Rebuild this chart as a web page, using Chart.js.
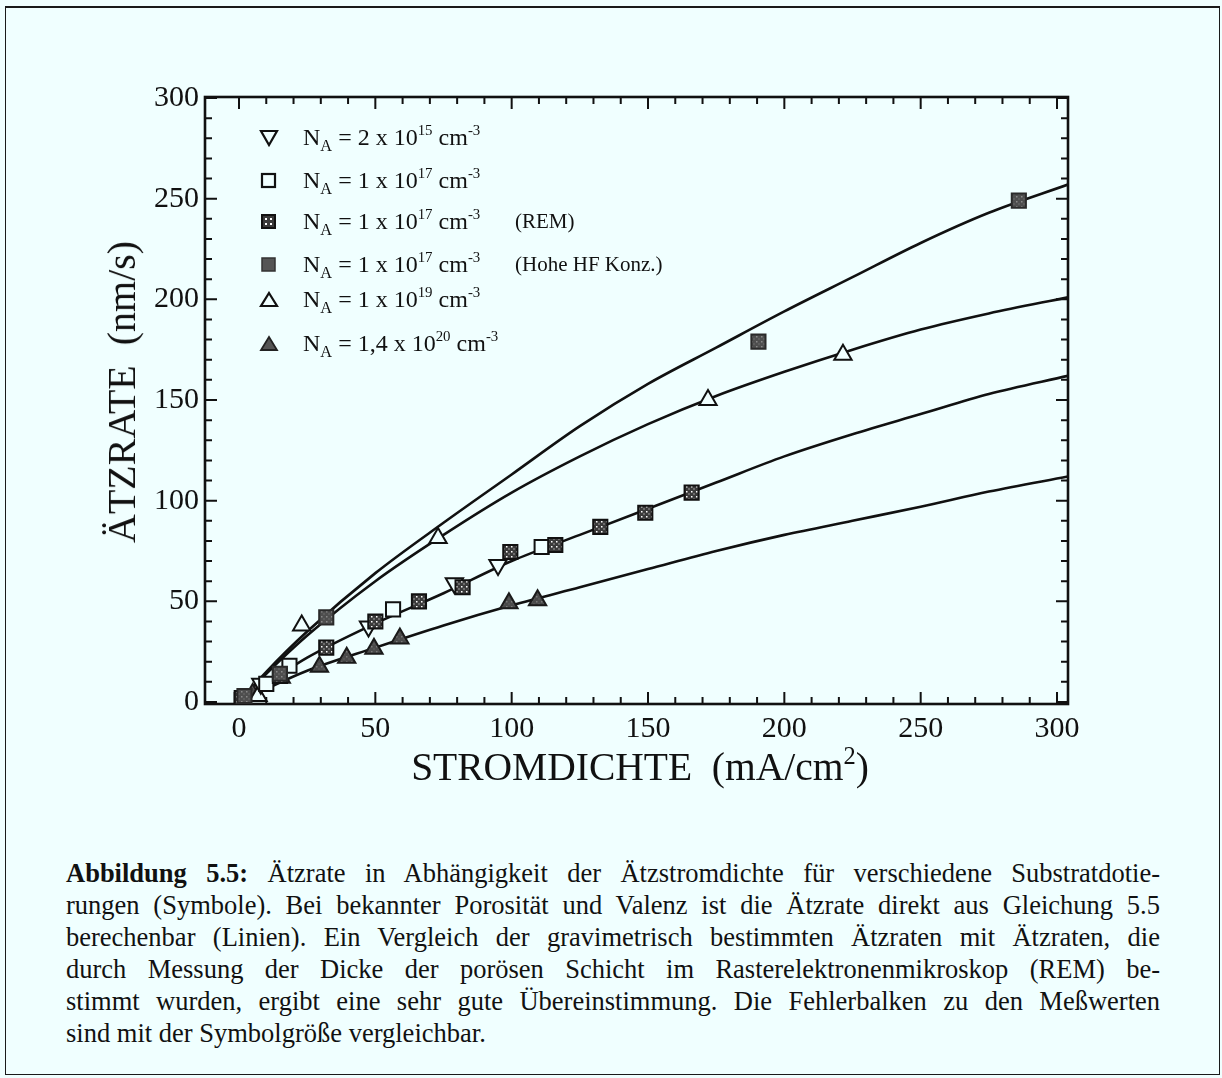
<!DOCTYPE html>
<html><head><meta charset="utf-8">
<script src="https://cdn.jsdelivr.net/npm/chart.js@4.4.1/dist/chart.umd.min.js"></script>
<style>
html,body{margin:0;padding:0;background:#f0ffff;}
body{width:1222px;height:1078px;position:relative;overflow:hidden;font-family:'Liberation Serif','Times New Roman',serif;color:#111;}
#frame{position:absolute;left:5px;top:6px;width:1213px;height:1066px;border:1.5px solid #1a1a1a;border-top-width:2px;}
#c{position:absolute;left:0;top:0;}
.leg{position:absolute;left:255px;height:30px;font-size:24px;line-height:30px;white-space:nowrap;}
.leg svg{position:absolute;left:4px;top:7px;}
.leg .t{position:absolute;left:48px;top:0;}
.leg .e{position:absolute;left:260px;top:0;font-size:21px;}
sub{font-size:0.68em;vertical-align:-0.35em;line-height:0;}
sup{font-size:0.62em;vertical-align:0.65em;line-height:0;}
#xt{position:absolute;left:0;width:1280px;top:745px;text-align:center;font-size:39.5px;line-height:44px;white-space:nowrap;}
#yt{position:absolute;left:122px;top:392px;transform:translate(-50%,-50%) rotate(-90deg);font-size:40px;line-height:44px;white-space:nowrap;}
#cap{position:absolute;left:66px;top:857px;width:1094px;font-size:26.5px;line-height:32px;}
#cap .l{text-align:justify;text-align-last:justify;}
#cap .z{text-align:left;}
</style></head>
<body>
<div id="frame"></div>
<canvas id="c" width="1222" height="840"></canvas>

<div class="leg" style="top:122px"><svg width="20" height="18"><polygon points="2,2 18,2 10,16" fill="#f0ffff" stroke="#111" stroke-width="2.2"/></svg><span class="t">N<sub>A</sub> = 2 x 10<sup>15</sup> cm<sup>-3</sup></span></div>
<div class="leg" style="top:165px"><svg width="20" height="18"><rect x="3" y="2" width="13" height="13" fill="#f0ffff" stroke="#111" stroke-width="2.2"/></svg><span class="t">N<sub>A</sub> = 1 x 10<sup>17</sup> cm<sup>-3</sup></span></div>
<div class="leg" style="top:206px"><svg width="20" height="18"><rect x="3" y="2" width="13" height="13" fill="#3a3a3a" stroke="#111" stroke-width="2"/><rect x="6" y="5" width="2" height="2" fill="#fff"/><rect x="11" y="5" width="2" height="2" fill="#fff"/><rect x="6" y="10" width="2" height="2" fill="#fff"/><rect x="11" y="10" width="2" height="2" fill="#fff"/></svg><span class="t">N<sub>A</sub> = 1 x 10<sup>17</sup> cm<sup>-3</sup></span><span class="e">(REM)</span></div>
<div class="leg" style="top:249px"><svg width="20" height="18"><rect x="3" y="2" width="13" height="13" fill="#555" stroke="#333" stroke-width="1.5"/></svg><span class="t">N<sub>A</sub> = 1 x 10<sup>17</sup> cm<sup>-3</sup></span><span class="e">(Hohe HF Konz.)</span></div>
<div class="leg" style="top:284px"><svg width="20" height="18"><polygon points="10,2 18,15 2,15" fill="#f0ffff" stroke="#111" stroke-width="2.2"/></svg><span class="t">N<sub>A</sub> = 1 x 10<sup>19</sup> cm<sup>-3</sup></span></div>
<div class="leg" style="top:328px"><svg width="20" height="18"><polygon points="10,2 18,15 2,15" fill="#555" stroke="#222" stroke-width="1.8"/></svg><span class="t">N<sub>A</sub> = 1,4 x 10<sup>20</sup> cm<sup>-3</sup></span></div>

<div id="xt">STROMDICHTE&nbsp; (mA/cm<sup>2</sup>)</div>
<div id="yt">ÄTZRATE&nbsp; (nm/s)</div>

<div id="cap">
<div class="l"><b>Abbildung 5.5:</b> Ätzrate in Abhängigkeit der Ätzstromdichte für verschiedene Substratdotie-</div>
<div class="l">rungen (Symbole). Bei bekannter Porosität und Valenz ist die Ätzrate direkt aus Gleichung 5.5</div>
<div class="l">berechenbar (Linien). Ein Vergleich der gravimetrisch bestimmten Ätzraten mit Ätzraten, die</div>
<div class="l">durch Messung der Dicke der porösen Schicht im Rasterelektronenmikroskop (REM) be-</div>
<div class="l">stimmt wurden, ergibt eine sehr gute Übereinstimmung. Die Fehlerbalken zu den Meßwerten</div>
<div class="z">sind mit der Symbolgröße vergleichbar.</div>
</div>

<script>
// ---- tick values ----
const xMajorTicks = [0, 50, 100, 150, 200, 250, 300];
const xMinorTicks = [10,20,30,40,60,70,80,90,110,120,130,140,160,170,180,190,210,220,230,240,260,270,280,290];
const yMajorTicks = [0, 50, 100, 150, 200, 250, 300];
const yMinorTicks = [10,20,30,40,60,70,80,90,110,120,130,140,160,170,180,190,210,220,230,240,260,270,280,290];

// ---- model curves (Gleichung 5.5) ----
const curveX     = [0, 10, 25, 50, 75, 100, 125, 150, 175, 200, 225, 250, 275, 304];
const curveHF    = [0, 15, 35, 64, 89, 113, 137, 158, 176, 194, 211, 228, 243, 257];
const curve1e19  = [0, 14, 33, 60, 83, 104, 122, 138, 152, 164, 175, 185, 193, 201];
const curve1e17  = [0, 9, 22, 39, 54, 70, 83, 96, 109, 122, 133, 143, 153, 162];
const curve14e20 = [0, 6.5, 15.5, 27, 38, 48, 57, 66, 75, 83, 90, 97, 104.5, 112];

// ---- measured points ----
const dnTriX = [8, 47.5, 79, 95];
const dnTriY = [9, 37.5, 59, 68];
const openSqX = [1, 10, 18.5, 56.5, 111];
const openSqY = [1, 9, 18, 46, 77];
const remSqX = [1, 15, 32, 50, 66, 82, 99.5, 116, 132.5, 149, 166];
const remSqY = [2, 13, 27, 40, 50, 57, 74.5, 78, 87, 94, 104];
const hfSqX = [2, 15, 32, 190.5, 286];
const hfSqY = [3, 14, 42, 179, 249];
const openTriX = [7, 23, 73, 172, 221.5];
const openTriY = [3, 38, 81.5, 150, 172.5];
const fillTriX = [5, 15.5, 29.5, 39.5, 49.5, 59, 99, 109.5];
const fillTriY = [4, 12, 17.5, 22, 26.5, 31.5, 49, 50.5];

const zip = (xs, ys) => xs.map((x, i) => ({x, y: ys[i]}));

const canvas = document.getElementById('c');
const ctx0 = canvas.getContext('2d');
function pattern(base, dot) {
  const c = document.createElement('canvas'); c.width = 5; c.height = 5;
  const g = c.getContext('2d');
  g.fillStyle = base; g.fillRect(0, 0, 5, 5);
  g.fillStyle = dot; g.fillRect(1, 1, 1.5, 1.5); g.fillRect(3.5, 3.5, 1, 1);
  return ctx0.createPattern(c, 'repeat');
}
const remFill = pattern('#3a3a3a', '#ffffff');
const hfFill = pattern('#4e4e4e', '#8a8a8a');
const triFill = pattern('#4a4a4a', '#7a7a7a');
const BG = '#f0ffff';

function lineDs(ys) {
  return {type: 'line', data: zip(curveX, ys), borderColor: '#111', borderWidth: 2.6,
    pointRadius: 0, cubicInterpolationMode: 'monotone', fill: false, order: 10};
}
function ptDs(xs, ys, style, fillc, rot, stroke, r) {
  return {type: 'line', showLine: false, data: zip(xs, ys), pointStyle: style,
    pointRotation: rot || 0, pointRadius: r || 10, pointBackgroundColor: fillc,
    pointBorderColor: stroke || '#111', pointBorderWidth: 2, order: 0};
}

const frameTicks = {
  id: 'frameTicks',
  beforeDatasetsDraw(chart) {
    const {ctx, chartArea: a, scales: {x, y}} = chart;
    ctx.save();
    ctx.strokeStyle = '#111';
    ctx.lineWidth = 2;
    ctx.beginPath();
    const major = 12, minor = 7;
    const vx = (vals, len) => vals.forEach(v => {
      const px = x.getPixelForValue(v);
      ctx.moveTo(px, a.bottom); ctx.lineTo(px, a.bottom - len);
      ctx.moveTo(px, a.top); ctx.lineTo(px, a.top + len);
    });
    const vy = (vals, len) => vals.forEach(v => {
      const py = y.getPixelForValue(v);
      ctx.moveTo(a.left, py); ctx.lineTo(a.left + len, py);
      ctx.moveTo(a.right, py); ctx.lineTo(a.right - len, py);
    });
    vx(xMajorTicks, major); vx(xMinorTicks, minor);
    vy(yMajorTicks, major); vy(yMinorTicks, minor);
    ctx.stroke();
    ctx.lineWidth = 2.6;
    ctx.strokeRect(a.left, a.top, a.right - a.left, a.bottom - a.top);
    ctx.restore();
  }
};

const tickFont = {family: "'Liberation Serif', 'Times New Roman', serif", size: 30};

new Chart(canvas, {
  data: {
    datasets: [
      ptDs(hfSqX, hfSqY, 'rect', hfFill, 0, '#2a2a2a', 10),
      ptDs(remSqX, remSqY, 'rect', remFill, 0, '#111', 10),
      ptDs(openSqX, openSqY, 'rect', BG, 0, '#111', 10),
      ptDs(dnTriX, dnTriY, 'triangle', BG, 180, '#111', 10),
      ptDs(openTriX, openTriY, 'triangle', BG, 0, '#111', 10),
      ptDs(fillTriX, fillTriY, 'triangle', triFill, 0, '#1a1a1a', 10),
      lineDs(curveHF), lineDs(curve1e19), lineDs(curve1e17), lineDs(curve14e20)
    ]
  },
  options: {
    responsive: false, animation: false, devicePixelRatio: 1,
    layout: {padding: {left: 0, top: 97, right: 154, bottom: 0}},
    plugins: {legend: {display: false}, tooltip: {enabled: false}},
    scales: {
      x: {type: 'linear', min: -12.47, max: 304.03,
        afterFit(s) { s.height = 136; },
        afterBuildTicks(s) { s.ticks = xMajorTicks.map(v => ({value: v})); },
        grid: {display: false, drawTicks: false}, border: {display: false},
        ticks: {font: tickFont, color: '#111', padding: 7, maxRotation: 0, autoSkip: false}},
      y: {type: 'linear', min: -1, max: 300.5,
        afterFit(s) { s.width = 205; },
        afterBuildTicks(s) { s.ticks = yMajorTicks.map(v => ({value: v})); },
        grid: {display: false, drawTicks: false}, border: {display: false},
        ticks: {font: tickFont, color: '#111', padding: 6, autoSkip: false}}
    }
  },
  plugins: [frameTicks]
});
</script>
</body></html>
